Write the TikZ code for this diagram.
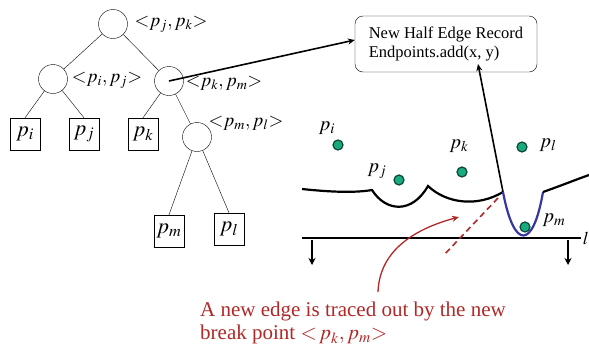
\documentclass[tikz,border=0pt]{standalone}
\usepackage{mathptmx}
\usepackage{fontspec}
\setmainfont{Liberation Serif}
\usepackage{tikz}
\usetikzlibrary{arrows.meta,positioning,calc}
\definecolor{sitegreen}{RGB}{26,170,128}
\definecolor{siteedge}{RGB}{12,70,52}
\definecolor{arcblue}{RGB}{55,55,160}
\definecolor{notered}{RGB}{176,40,40}

\begin{document}
\begin{tikzpicture}[x=1pt, y=-1pt,
    inode/.style={circle, draw, thin, minimum size=29pt, inner sep=0pt},
    leaf/.style={rectangle, draw, thin, minimum width=30pt, minimum height=32pt,
                 inner sep=0pt, font=\fontsize{22}{24}\selectfont},
    brk/.style={font=\fontsize{19}{22}\selectfont},
    site/.style={circle, draw=siteedge, fill=sitegreen, line width=1.2pt,
                 minimum size=10pt, inner sep=0pt},
    sitelab/.style={font=\fontsize{20}{22}\selectfont},
    record/.style={rectangle, draw, rounded corners=8pt, align=left,
                   minimum width=182pt, minimum height=56pt,
                   font=\fontsize{16.5}{19}\selectfont},
    arrow/.style={-{Stealth[length=7pt,width=6pt]}, line width=1.6pt},
    edge/.style={thin}
]
\useasboundingbox (0,0) rectangle (589,354);

% tree
\node[inode] (root) at (113,24) {};
\node[inode] (cij) at (53,79) {};
\node[inode] (ckm) at (169,81) {};
\node[inode] (cml) at (197,137) {};
\node[leaf] (li) at (25,134) {$p_i$};
\node[leaf] (lj) at (84,134) {$p_j$};
\node[leaf] (lk) at (143,134) {$p_k$};
\node[leaf] (lm) at (169,231) {$p_m$};
\node[leaf] (ll) at (229,229) {$p_l$};
\node[brk] at (171,24) {${<}p_j, p_k{>}$};
\node[brk] at (107,80) {${<}p_i, p_j{>}$};
\node[brk] at (224,83) {${<}p_k, p_m{>}$};
\node[brk] at (246,123) {${<}p_m, p_l{>}$};
\draw[edge] (root) -- (cij);
\draw[edge] (root) -- (ckm);
\draw[edge] (cij) -- (li.north);
\draw[edge] (cij) -- (lj.north);
\draw[edge] (ckm) -- (lk.north);
\draw[edge] (ckm) -- (cml);
\draw[edge] (cml) -- (lm.north);
\draw[edge] (cml) -- (ll.north);

% half edge record
\node[record] (rec) at (446,44) {New Half Edge Record\\Endpoints.add(x, y)};
\coordinate (xy) at (478,64);
\draw[arrow] (ckm.center) -- ($(rec.west)+(0,-4)$);

% sites
\node[site] (si) at (338,145) {};
\node[site] (sj) at (399,180) {};
\node[site] (sk) at (462,172) {};
\node[site] (sl) at (522,147) {};
\node[site] (sm) at (525,227) {};
\node[sitelab] at (327,128) {$p_i$};
\node[sitelab] at (377,171) {$p_j$};
\node[sitelab] at (459,146) {$p_k$};
\node[sitelab] at (548,145) {$p_l$};
\node[sitelab] at (554,220) {$p_m$};

% beach line
\coordinate (bp) at (503,192);
\coordinate (bq) at (543,192);
\draw[line width=2.2pt] (302,189) .. controls (330,192) and (355,193) .. (372,190)
    .. controls (386,212) and (412,214) .. (428,186)
    .. controls (447,204) and (478,207) .. (bp);
\draw[line width=2.2pt, arcblue] (bp) .. controls (514,250) and (533,250) .. (bq);
\draw[line width=2.2pt] (bq) .. controls (560,186) and (575,180) .. (589,175);
\draw[arrow] (bp) -- (xy);

% sweep line
\coordinate (sw1) at (302,238);
\coordinate (sw2) at (581,238);
\draw[line width=2.6pt] (sw1) -- (sw2) node[right, inner sep=0.5pt, font=\fontsize{18}{20}\selectfont] {$l$};
\coordinate (d1) at (312,240);
\coordinate (d1e) at (312,265);
\coordinate (d2) at (568,240);
\coordinate (d2e) at (568,265);
\draw[-{Stealth[length=7pt,width=7pt]}, line width=1.4pt] (d1) -- (d1e);
\draw[-{Stealth[length=7pt,width=7pt]}, line width=1.4pt] (d2) -- (d2e);

% traced edge
\coordinate (de) at (443,256);
\draw[notered, dashed, line width=1.6pt, dash pattern=on 6pt off 4pt] ($(bp)+(-5,6)$) -- (de);
\node[notered, anchor=north west, align=left, inner sep=0pt,
      font=\fontsize{21}{23}\selectfont] (note) at (200,302)
      {A new edge is traced out by the new\\break point ${<}\,p_k, p_m{>}$};
\coordinate (ct) at (378,292);
\coordinate (ch) at (459,217);
\draw[notered, -{Stealth[length=7pt,width=6pt]}, line width=1.3pt] (ct) to[out=88,in=195] (ch);
\end{tikzpicture}
\end{document}
